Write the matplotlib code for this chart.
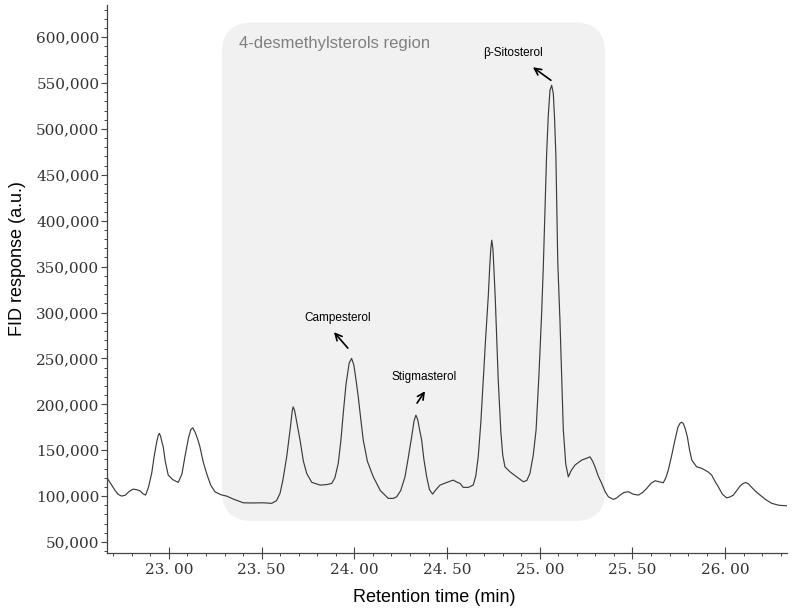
import matplotlib.pyplot as plt
from matplotlib.patches import FancyBboxPatch
from matplotlib.ticker import MultipleLocator, FuncFormatter

# chromatogram trace (time in min, FID response)
rt_min = [22.664, 22.675, 22.691, 22.710, 22.725, 22.745, 22.765, 22.785, 22.807, 22.825,
          22.844, 22.860, 22.874, 22.890, 22.907, 22.920, 22.934, 22.942, 22.948, 22.955,
          22.962, 22.969, 22.980, 22.996, 23.020, 23.050, 23.070, 23.086, 23.105, 23.118,
          23.128, 23.140, 23.155, 23.167, 23.185, 23.203, 23.225, 23.248, 23.280, 23.311,
          23.350, 23.401, 23.450, 23.509, 23.554, 23.580, 23.599, 23.615, 23.635, 23.655,
          23.665, 23.670, 23.678, 23.690, 23.707, 23.725, 23.743, 23.770, 23.815, 23.850,
          23.878, 23.895, 23.913, 23.927, 23.940, 23.955, 23.972, 23.985, 23.997, 24.010,
          24.021, 24.035, 24.048, 24.070, 24.102, 24.140, 24.183, 24.210, 24.228, 24.250,
          24.273, 24.290, 24.309, 24.322, 24.332, 24.342, 24.352, 24.363, 24.375, 24.390,
          24.405, 24.422, 24.440, 24.462, 24.500, 24.533, 24.555, 24.570, 24.587, 24.615,
          24.641, 24.655, 24.668, 24.682, 24.695, 24.708, 24.722, 24.730, 24.736, 24.741,
          24.747, 24.753, 24.760, 24.768, 24.776, 24.790, 24.800, 24.812, 24.839, 24.875,
          24.911, 24.930, 24.947, 24.965, 24.980, 24.995, 25.010, 25.019, 25.028, 25.037,
          25.046, 25.055, 25.064, 25.073, 25.080, 25.087, 25.092, 25.097, 25.109, 25.118,
          25.127, 25.140, 25.154, 25.170, 25.190, 25.226, 25.250, 25.271, 25.285, 25.298,
          25.315, 25.334, 25.352, 25.370, 25.397, 25.415, 25.433, 25.455, 25.478, 25.505,
          25.532, 25.555, 25.577, 25.600, 25.622, 25.645, 25.666, 25.680, 25.693, 25.710,
          25.729, 25.745, 25.756, 25.765, 25.774, 25.785, 25.796, 25.808, 25.820, 25.846,
          25.870, 25.891, 25.910, 25.927, 25.945, 25.963, 25.985, 26.008, 26.025, 26.044,
          26.062, 26.080, 26.095, 26.111, 26.127, 26.143, 26.165, 26.188, 26.220, 26.251,
          26.290, 26.332]
fid = [121000, 117000, 112000, 106000, 102000, 100000, 101000, 105000, 107600, 107000,
       105800, 102500, 101100, 110000, 125000, 143000, 159100, 166000, 168300, 165000,
       159000, 153700, 138000, 122900, 118000, 114900, 124000, 142800, 163000, 172500,
       174400, 170000, 162000, 153700, 137000, 124700, 112000, 104700, 101500, 100000,
       96500, 92700, 92500, 92700, 92100, 95000, 102900, 118000, 142800, 175000,
       193000, 197200, 193000, 180000, 161000, 138000, 124700, 115000, 112000, 112500,
       113800, 120000, 135600, 160000, 190100, 222000, 245000, 250000, 243000, 225000,
       208100, 183000, 161000, 138000, 121000, 106000, 97500, 97500, 99200, 106000,
       121000, 141000, 164600, 182000, 188200, 183000, 172000, 161000, 140000, 121000,
       107000, 102200, 107000, 112000, 115000, 117400, 115000, 113800, 109500, 109500,
       112000, 122000, 142800, 180000, 226300, 272000, 317000, 350000, 370000, 378800,
       370000, 346100, 315000, 270000, 226300, 170000, 145000, 131900, 126500, 121000,
       115600, 117000, 124700, 145000, 171900, 230000, 299000, 349700, 410000, 473200,
       515000, 542100, 547600, 538500, 510000, 470000, 415000, 355000, 290000, 230000,
       171900, 135000, 121000, 128000, 133800, 139200, 141000, 142800, 138000, 131900,
       122000, 113800, 105000, 99200, 96400, 98000, 101100, 104000, 104700, 102000,
       101100, 104000, 108400, 114000, 116700, 115500, 114500, 120000, 128300, 143000,
       161000, 175000, 179200, 180500, 179200, 173000, 164600, 150000, 139200, 131900,
       130500, 128300, 126000, 122900, 116000, 110100, 102000, 98100, 99000, 101100,
       106000, 110900, 113500, 114900, 113000, 109500, 105000, 101100, 96000, 92100,
       90000, 89400]

# peak labels: name, text position, arrow head, arrow tail
peak_names = ['Campesterol', 'Stigmasterol', 'β-Sitosterol']
label_xy = [(23.912, 293800), (24.375, 229600), (24.855, 582400)]
arrow_head = [(23.890, 278600), (24.381, 214300), (24.963, 567200)]
arrow_tail = [(23.965, 261200), (24.338, 201300), (25.060, 553000)]

fig = plt.figure(figsize=(7.94, 6.12), dpi=100)
ax = fig.add_axes([0.1348, 0.0964, 0.8563, 0.8954])

# rounded shaded region behind the sterol peaks
x0, x1, y0, y1 = 23.286, 25.352, 72800, 616000
rad = 0.165
box = FancyBboxPatch((x0, y0), x1 - x0, y1 - y0,
                     boxstyle=f'round,pad=0,rounding_size={rad}',
                     mutation_aspect=32700 / rad,
                     fc='#f1f1f1', ec='none', zorder=0)
ax.add_patch(box)
ax.text(23.38, 593000, '4-desmethylsterols region', color='#808080',
        fontsize=12, family='Liberation Sans', va='center', ha='left')

ax.plot(rt_min, fid, color='#3c3c3c', lw=0.85, zorder=2)

for name, txy, hxy, sxy in zip(peak_names, label_xy, arrow_head, arrow_tail):
    ax.text(*txy, name, fontsize=8.5, family='Liberation Sans', ha='center', va='center')
    ax.annotate('', xy=hxy, xytext=sxy,
                arrowprops=dict(arrowstyle='->', color='black', lw=1.2,
                                shrinkA=0, shrinkB=0, mutation_scale=12))

ax.set_xlim(22.666, 26.333)
ax.set_ylim(38000, 635000)

ax.xaxis.set_major_locator(MultipleLocator(0.5))
ax.xaxis.set_minor_locator(MultipleLocator(0.1))
ax.yaxis.set_major_locator(MultipleLocator(50000))
ax.yaxis.set_minor_locator(MultipleLocator(10000))
ax.xaxis.set_major_formatter(FuncFormatter(lambda v, p: f'{v:.2f}'.replace('.', '. ')))
ax.yaxis.set_major_formatter(FuncFormatter(lambda v, p: f'{v:,.0f}'))

for s in ['top', 'right']:
    ax.spines[s].set_visible(False)
for s in ['left', 'bottom']:
    ax.spines[s].set_color('#444444')
    ax.spines[s].set_linewidth(0.9)

ax.tick_params(axis='both', which='major', colors='#444444', labelcolor='#333333',
               labelsize=11, length=4, width=0.8)
ax.tick_params(axis='y', which='major', pad=1.5)
ax.tick_params(axis='x', which='major', direction='inout', length=8, pad=3)
ax.tick_params(axis='both', which='minor', colors='#444444', length=2.5, width=0.7)
for lab in ax.get_xticklabels() + ax.get_yticklabels():
    lab.set_family('DejaVu Serif')

ax.set_xlabel('Retention time (min)', fontsize=13, family='Liberation Sans')
ax.set_ylabel('FID response (a.u.)', fontsize=13, family='Liberation Sans')
ax.xaxis.set_label_coords(0.481, -0.082)
ax.xaxis.label.set_va('center')
ax.yaxis.set_label_coords(-0.132, 0.538)
ax.yaxis.label.set_va('center')

fig.savefig('out.png', dpi=100)
